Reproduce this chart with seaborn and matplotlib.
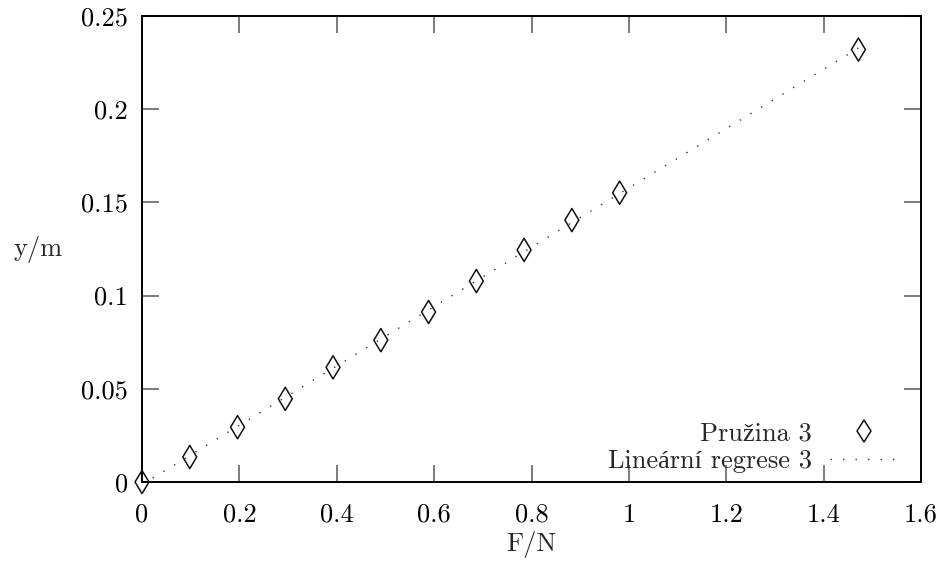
import numpy as np
import pandas as pd
import matplotlib
matplotlib.use("Agg")
import matplotlib.pyplot as plt
import seaborn as sns
from matplotlib.ticker import FuncFormatter
from matplotlib.lines import Line2D

# data
force_N = [0.0, 0.0981, 0.1962, 0.2943, 0.3924, 0.4905, 0.5886, 0.6867, 0.7848, 0.8829, 0.981, 1.4715]
extension_m = [0.0, 0.0134, 0.0294, 0.0446, 0.0615, 0.0761, 0.0912, 0.1078, 0.1245, 0.1405, 0.1552, 0.2320]
x_ticks = [0, 0.2, 0.4, 0.6, 0.8, 1.0, 1.2, 1.4, 1.6]
y_ticks = [0, 0.05, 0.1, 0.15, 0.2, 0.25]
series_label = "Pružina 3"
fit_label = "Lineární regrese 3"

df = pd.DataFrame({"F": force_N, "y": extension_m})

sns.set_theme(style="white")
plt.rcParams["font.family"] = ["cmr10", "Liberation Serif"]
plt.rcParams["mathtext.fontset"] = "cm"
plt.rcParams["axes.formatter.use_mathtext"] = True
plt.rcParams["font.size"] = 19

fig = plt.figure(figsize=(9.48, 5.65), dpi=100)
ax = fig.add_axes([142 / 948, 1 - 482 / 565, (921 - 142) / 948, (482 - 16) / 565])

sns.regplot(data=df, x="F", y="y", ax=ax, scatter=False, ci=None, truncate=True,
            line_kws=dict(color="#333333", lw=1.0, ls=(0, (1, 8))))
sns.scatterplot(data=df, x="F", y="y", ax=ax, marker="d", s=140,
                facecolor="none", edgecolor="#111111", linewidth=1.1, legend=False,
                clip_on=False, zorder=3)

ax.set_xlim(0, 1.6)
ax.set_ylim(0, 0.25)
ax.set_xticks(x_ticks)
ax.set_yticks(y_ticks)
fmt = FuncFormatter(lambda v, p: ("%g" % round(v, 4)))
ax.xaxis.set_major_formatter(fmt)
ax.yaxis.set_major_formatter(fmt)
ax.tick_params(direction="in", length=12, width=1.2, color="#666666", labelsize=19,
               top=True, right=True, bottom=True, left=True, labelcolor="black")
ax.tick_params(axis="x", pad=15)
ax.tick_params(axis="y", pad=10)
for s in ax.spines.values():
    s.set_color("black")
    s.set_linewidth(1.4)

ax.set_xlabel("F/N", fontsize=19, va="baseline")
ax.xaxis.set_label_coords(0.5, -0.148)
ax.set_ylabel("y/m", fontsize=19, rotation=0, ha="center", va="baseline")
ax.yaxis.set_label_coords(-0.1335, 0.485)

handles = [
    Line2D([], [], marker="d", ls="none", markersize=11.5, markerfacecolor="none",
           markeredgecolor="#111111", markeredgewidth=1.1),
    Line2D([], [], color="#333333", lw=1.0, ls=(0, (1, 8))),
]
ax.legend(handles, [series_label, fit_label], loc="lower right", frameon=False,
          markerfirst=False, handlelength=2.6, handletextpad=0.7, labelspacing=0.15,
          bbox_to_anchor=(0.985, -0.004), fontsize=19, borderaxespad=0)

fig.savefig("out.png", dpi=100)
